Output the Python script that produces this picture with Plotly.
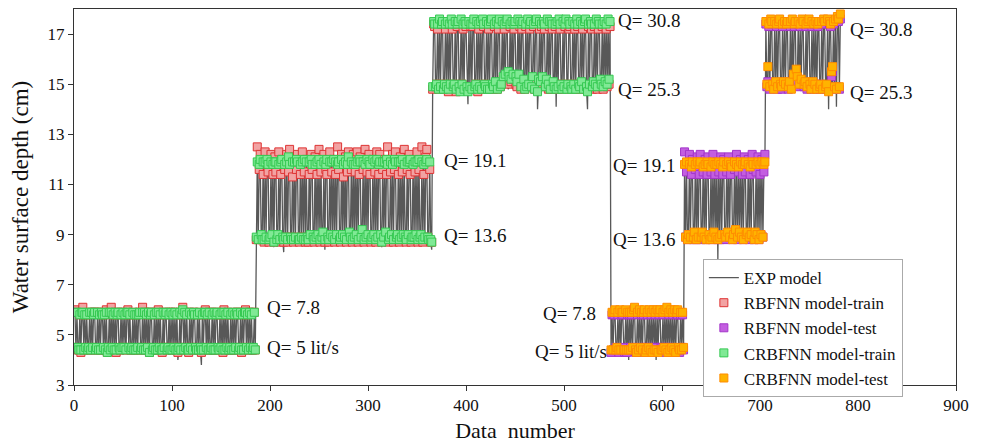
import plotly.graph_objects as go

# Measured water surface depth (cm) per data number, grouped by discharge blocks
exp_b1 = [5.9,4.4,5.8,4.5,4.4,5.9,4.3,5.8,6.0,4.5,5.9,4.4,5.7,4.5,4.6,5.9,4.3,5.8,4.4,5.9,
          6.0,4.5,4.4,5.8,4.3,5.9,4.5,5.8,5.9,4.4,5.7,4.5,5.9,4.2,4.4,5.8,4.5,6.0,4.4,5.9,
          4.5,5.8,4.3,5.9,5.8,4.4,4.5,5.9,4.4,5.8,4.6,5.9,4.3,5.8,6.0,4.4,5.9,4.5,4.4,5.8,
          4.3,5.9,4.5,5.7,4.4,5.9,5.8,4.5,4.4,6.0,4.3,5.8,4.5,5.9,4.4,5.8,4.2,5.9,5.8,4.5,
          4.4,5.9,4.3,5.8,4.5,6.0,4.4,5.9,4.5,4.3,5.8,4.4,5.9,5.8,4.5,4.4,5.9,4.3,5.8,4.5,
          5.9,4.4,5.8,4.5,5.9,4.0,4.4,5.8,4.3,5.9,6.1,4.5,5.8,4.4,5.9,4.5,4.3,5.8,4.4,5.9,
          4.5,5.8,5.9,4.4,4.3,5.9,4.5,5.8,4.4,3.8,5.9,4.5,5.8,6.0,4.4,5.9,4.3,5.8,4.5,4.4,
          5.9,4.5,5.8,4.3,5.9,5.8,4.4,4.5,5.9,4.4,5.8,4.3,6.0,4.5,5.9,4.4,5.8,4.5,4.4,5.9,
          4.3,5.8,4.5,5.9,4.4,5.8,5.9,4.5,4.4,5.8,4.3,5.9,4.5,5.8,6.0,4.4,5.9,4.5,5.8,4.4,
          5.9,4.5,4.4,5.8,4.5]
exp_b2 = [8.8,11.9,8.7,11.8,12.0,8.9,8.8,11.9,8.6,11.8,8.9,12.0,11.9,8.7,8.8,11.8,8.9,11.9,8.5,12.0,
          11.8,8.8,8.9,11.9,8.7,11.8,12.0,8.8,8.3,11.9,8.9,11.8,8.7,12.0,11.9,8.8,8.9,11.8,8.7,11.9,
          8.8,12.0,11.8,8.9,8.7,11.9,8.8,11.8,8.9,12.1,8.7,11.9,8.8,8.6,11.8,8.9,12.0,11.9,8.8,8.7,
          11.9,8.8,11.8,8.9,12.0,8.7,11.9,8.8,8.9,11.8,8.4,11.9,12.0,8.8,8.7,11.8,8.9,11.9,8.8,12.0,
          8.7,11.8,8.9,11.9,11.8,8.8,8.7,12.0,8.9,11.9,8.8,11.8,8.6,11.9,12.0,8.9,8.8,11.8,8.7,11.9,
          8.8,11.9,8.9,11.8,8.7,12.0,11.9,8.8,8.9,11.8,8.7,11.9,8.8,12.1,8.9,11.8,11.9,8.7,8.8,11.9,
          8.9,11.8,8.7,12.0,8.8,11.9,11.8,8.9,8.5,11.9,8.8,11.8,8.9,12.0,11.9,8.7,8.8,11.8,8.9,11.9,
          8.7,12.0,11.8,8.8,8.9,11.9,8.7,11.8,8.8,12.0,8.9,11.9,8.8,8.6,11.8,8.9,11.9,12.0,8.7,8.8,
          11.9,8.8,11.8,8.9,11.9,8.7,12.0,8.8,8.9,11.8,8.7,11.9,8.8,11.8,12.0,8.9,8.8,11.9,8.7,8.4]
exp_b3 = [14.9,17.4,17.5,14.8,15.0,17.3,14.7,17.5,14.9,17.4,17.6,14.8,14.9,17.3,15.0,17.5,14.7,17.4,14.9,17.6,
          17.3,14.8,15.0,17.5,14.6,17.4,17.3,14.9,14.8,17.6,15.0,17.4,14.7,17.5,17.3,14.9,14.2,17.4,14.8,17.5,
          14.9,17.3,17.6,14.8,15.0,17.4,14.7,17.5,14.9,17.3,14.8,17.6,17.4,15.0,14.8,17.5,14.9,17.3,14.7,17.4,
          17.5,14.9,14.8,17.4,15.0,17.6,14.7,17.3,17.5,14.9,14.8,17.4,15.1,17.5,14.9,17.3,17.6,14.8,14.9,17.4,
          15.0,17.5,14.8,17.3,17.4,15.2,14.9,17.6,15.3,17.4,14.8,17.5,17.3,15.1,14.9,17.4,14.8,17.6,15.0,17.3,
          17.4,14.9,15.4,17.5,14.8,17.3,17.6,14.0,15.0,17.4,14.9,17.5,15.2,17.3,17.4,14.8,15.0,17.6,14.9,17.5,
          14.8,17.4,17.3,15.0,14.9,17.5,14.1,17.4,14.8,17.6,17.3,15.0,14.9,17.4,14.8,17.5,17.7,14.9,15.0,17.4,
          17.3,14.8,14.9,17.5,15.0,17.4,14.7,17.6,17.3,14.9,14.8,17.5,15.0,17.4,14.9,17.3,17.5,14.8,14.0,17.4,
          14.9,17.5,17.4,14.8,15.0,17.3,14.9,17.6,14.8,17.4,17.5,15.0,14.9,17.3,14.8,17.5,15.0,17.4,14.9,17.5,
          14.9,17.4]
exp_b4 = [4.4,5.9,4.3,5.8,5.9,4.5,4.4,5.8,4.3,6.0,4.4,5.9,5.8,4.5,4.3,5.9,4.4,5.8,4.0,5.9,
          4.5,5.8,4.4,5.9,6.0,4.3,4.4,5.8,4.5,5.9,4.4,5.8,4.3,5.9,6.0,4.4,4.5,5.8,4.4,5.9,
          4.3,5.8,4.4,5.9,4.5,5.8,4.0,5.9,4.4,5.8,5.9,4.3,4.5,5.8,4.4,5.9,4.3,6.0,4.4,5.8,
          4.5,5.9,4.4,5.8,4.3,5.9,4.4,5.8,5.9,4.4,4.3,5.8,4.5,5.9,4.4]
exp_b5 = [11.7,8.9,11.8,8.8,9.0,11.9,8.9,11.7,11.8,8.8,9.0,11.9,8.7,11.8,8.9,11.7,11.9,8.8,9.1,11.8,
          8.9,11.7,8.8,11.9,11.8,9.0,8.9,11.7,8.8,11.8,9.0,11.9,8.9,11.7,8.0,11.8,8.8,11.9,9.0,11.7,
          11.8,8.9,8.8,11.7,9.0,11.9,8.9,11.8,11.7,8.8,9.0,11.8,8.9,11.9,8.8,11.7,9.1,11.8,8.9,11.9,
          8.8,11.7,11.8,8.9,9.0,11.9,8.8,11.7,8.9,11.8,11.9,8.8,9.0,11.7,8.9,11.8,8.8,11.9,9.0,11.8,
          8.9,11.7,11.8]
exp_b6 = [17.4,14.9,15.0,17.3,14.8,17.5,17.4,14.9,14.7,17.6,15.0,17.3,14.8,17.4,17.5,14.9,14.8,17.3,15.0,17.4,
          14.9,17.5,17.3,14.8,15.0,17.4,14.7,17.6,14.9,17.3,17.5,14.8,15.0,17.4,14.9,17.3,14.8,17.5,17.4,14.9,
          15.0,17.3,14.8,17.4,17.6,14.9,14.8,17.3,15.0,17.5,14.9,17.4,14.7,17.3,17.5,14.8,15.0,17.4,14.9,17.6,
          17.3,14.8,14.9,17.5,14.0,17.4,17.3,14.9,15.0,17.4,14.8,17.5,14.1,17.6,17.5,14.8,17.7]

# RBFNN predictions
rbf_b1 = [6.0,4.5,5.9,4.4,4.4,5.8,4.3,5.9,6.1,4.4,5.8,4.5,5.8,4.4,4.4,5.9,4.4,5.9,4.5,5.9,
          5.9,4.4,4.4,5.9,4.4,5.9,4.4,5.9,5.8,4.4,5.8,4.4,6.0,4.3,4.5,5.9,4.4,6.1,4.4,5.8,
          4.4,5.9,4.3,5.8,5.9,4.5,4.4,5.9,4.5,5.9,4.4,5.8,4.4,5.9,6.0,4.5,5.8,4.4,4.4,5.9,
          4.4,5.8,4.4,5.8,4.4,5.9,5.9,4.4,4.5,6.1,4.4,5.9,4.4,5.8,4.5,5.9,4.3,5.9,5.9,4.4,
          4.4,5.8,4.4,5.9,4.4,6.0,4.5,5.8,4.4,4.3,5.9,4.5,5.8,5.9,4.4,4.5,5.9,4.4,5.9,4.4,
          5.9,4.5,5.9,4.4,5.8,4.3,4.5,5.9,4.4,5.8,6.1,4.4,5.9,4.5,5.9,4.4,4.3,5.9,4.5,5.8,
          4.4,5.9,5.9,4.5,4.4,5.8,4.4,5.9,4.4,4.3,5.8,4.4,5.9,6.0,4.5,5.8,4.4,5.9,4.4,4.4,
          5.9,4.4,5.9,4.4,5.8,5.9,4.4,4.4,5.8,4.5,5.9,4.3,6.0,4.4,5.8,4.5,5.9,4.4,4.4,5.8,
          4.4,5.9,4.4,5.8,4.4,5.9,5.9,4.4,4.5,5.9,4.3,5.8,4.4,5.9,6.0,4.5,5.8,4.4,5.9,4.4,
          5.9,4.4,4.4,5.9,4.4]
rbf_b2 = [8.8,12.5,8.8,11.6,12.2,8.9,8.8,11.4,8.7,12.3,8.8,11.9,11.5,8.7,8.8,12.2,8.9,11.4,8.7,12.1,
          11.5,8.8,8.9,12.3,8.7,11.4,12.0,8.8,8.7,11.6,8.9,12.2,8.7,11.5,12.4,8.8,8.9,11.3,8.7,12.1,
          8.8,11.6,12.2,8.9,8.7,11.4,8.8,12.3,8.9,11.5,8.7,12.0,8.8,8.7,11.4,8.9,12.2,11.6,8.8,8.7,
          12.1,8.8,11.4,8.9,12.4,8.7,11.5,8.8,8.9,12.2,8.7,11.6,11.4,8.8,8.7,12.3,8.9,11.5,8.8,12.0,
          8.7,11.4,8.9,12.5,11.6,8.8,8.7,12.2,8.9,11.3,8.8,12.1,8.7,11.5,12.3,8.9,8.8,11.6,8.7,12.2,
          8.8,11.5,8.9,12.3,8.7,11.4,12.1,8.8,8.9,11.6,8.7,12.4,8.8,11.5,8.9,12.2,11.4,8.7,8.8,12.0,
          8.9,11.5,8.7,12.3,8.8,11.4,12.2,8.9,8.7,11.6,8.8,12.0,8.9,11.4,12.5,8.7,8.8,11.5,8.9,12.2,
          8.7,11.6,12.3,8.8,8.9,11.4,8.7,12.1,8.8,11.5,8.9,12.4,8.8,8.7,11.6,8.9,12.2,11.4,8.7,8.8,
          12.0,8.8,11.5,8.9,12.3,8.7,11.6,8.8,8.9,12.5,8.7,11.4,8.8,12.1,12.4,8.9,8.8,11.6,8.7,8.7]
rbf_b3 = [14.8,17.4,17.3,14.9,15.0,17.2,14.8,17.5,15.0,17.4,17.4,14.9,14.8,17.2,15.0,17.4,14.7,17.4,14.9,17.5,
          17.2,14.9,15.0,17.4,14.7,17.3,17.4,14.9,14.8,17.5,15.0,17.2,14.8,17.4,17.3,14.9,14.8,17.4,14.9,17.3,
          14.9,17.3,17.5,14.8,15.0,17.4,14.7,17.2,14.9,17.4,14.8,17.5,17.3,15.0,14.9,17.4,14.8,17.2,14.8,17.4,
          17.5,14.9,14.8,17.3,15.0,17.4,14.8,17.2,17.5,14.9,15.0,17.4,15.2,17.2,15.1,17.4,17.5,15.2,15.0,17.3,
          15.1,17.4,15.2,17.2,17.4,15.0,14.9,17.5,15.2,17.3,14.8,17.2,17.4,15.1,14.8,17.3,14.9,17.5,15.0,17.2,
          17.4,14.9,15.1,17.3,14.8,17.4,17.5,14.8,15.0,17.2,15.0,17.3,15.1,17.4,17.2,14.9,15.0,17.5,14.8,17.3,
          14.8,17.4,17.2,15.0,14.9,17.3,14.8,17.4,14.8,17.5,17.2,15.0,14.9,17.4,14.8,17.3,17.5,14.9,15.0,17.2,
          17.3,14.8,14.9,17.4,15.0,17.2,14.8,17.5,17.3,14.9,14.8,17.4,15.0,17.2,14.9,17.4,17.5,14.8,14.8,17.3,
          14.9,17.4,17.2,14.8,15.0,17.3,14.9,17.5,14.8,17.2,17.4,15.0,14.9,17.3,14.8,17.4,15.0,17.2,14.9,17.5,
          15.0,17.3]
rbf_b4 = [4.3,5.8,4.4,5.8,5.9,4.5,4.4,5.8,4.3,5.9,4.4,5.8,5.8,4.5,4.3,5.9,4.3,5.8,4.4,5.8,
          4.5,5.8,4.4,5.9,5.9,4.3,4.4,5.8,4.5,5.9,4.4,5.8,4.3,5.8,5.9,4.5,4.5,5.8,4.4,5.9,
          4.3,5.8,4.5,5.9,4.5,5.8,4.5,5.9,4.4,5.8,5.9,4.5,4.5,5.8,4.4,5.9,4.3,5.9,4.5,5.8,
          4.5,5.9,4.4,5.8,4.3,5.9,4.4,5.8,5.8,4.4,4.3,5.8,4.5,5.8,4.4]
rbf_b5 = [12.3,8.9,11.5,8.8,9.0,12.2,8.9,11.4,12.0,8.8,9.0,11.6,8.8,12.1,8.9,11.4,12.2,8.8,9.0,11.5,
          8.9,12.0,8.8,11.4,12.1,9.0,8.9,11.5,8.8,12.2,9.0,11.4,8.9,11.9,8.8,11.5,8.8,12.1,9.0,11.4,
          12.0,8.9,8.8,11.5,9.0,12.1,8.9,11.4,11.9,8.8,9.0,11.6,8.9,12.2,8.8,11.5,9.0,12.0,8.9,11.4,
          8.8,12.1,11.5,8.9,9.0,12.0,8.8,11.4,8.9,12.2,11.6,8.8,9.0,11.5,8.9,12.1,8.8,11.4,9.0,12.0,
          8.9,11.5,12.2]
rbf_b6 = [17.4,14.9,15.1,17.3,14.8,17.5,17.4,15.0,14.9,17.4,15.0,17.3,14.8,17.4,17.5,15.0,14.8,17.3,15.0,17.4,
          14.9,17.5,17.4,14.8,15.0,17.3,14.9,17.5,15.2,17.3,17.4,15.3,15.1,17.4,14.9,17.3,15.0,17.5,17.4,14.9,
          15.0,17.3,14.8,17.4,17.5,14.9,14.8,17.3,15.0,17.4,14.9,17.4,14.8,17.3,17.5,14.8,15.0,17.4,14.9,17.5,
          17.4,14.8,14.9,17.5,14.8,17.4,17.3,15.3,15.5,17.4,14.8,17.5,14.9,17.6,17.5,14.8,17.6]

# CRBFNN predictions
crbf_b1 = [5.9,4.5,5.9,4.5,4.4,5.8,4.4,5.9,5.9,4.4,5.8,4.5,5.8,4.4,4.5,5.9,4.4,5.9,4.5,5.8,
           5.9,4.4,4.5,5.9,4.4,5.8,4.4,5.9,5.8,4.5,5.8,4.4,5.9,4.3,4.5,5.9,4.4,5.9,4.5,5.8,
           4.4,5.9,4.4,5.8,5.9,4.5,4.4,5.8,4.5,5.9,4.5,5.8,4.4,5.9,5.9,4.5,5.8,4.4,4.5,5.9,
           4.4,5.8,4.4,5.8,4.5,5.8,5.9,4.4,4.5,5.9,4.4,5.9,4.4,5.8,4.5,5.9,4.3,5.8,5.9,4.4,
           4.5,5.8,4.4,5.9,4.4,5.9,4.5,5.8,4.4,4.4,5.9,4.5,5.8,5.9,4.4,4.5,5.8,4.4,5.9,4.4,
           5.8,4.5,5.9,4.4,5.8,4.4,4.5,5.9,4.4,5.8,6.0,4.4,5.9,4.5,5.8,4.4,4.4,5.9,4.5,5.8,
           4.4,5.9,5.8,4.5,4.4,5.8,4.4,5.9,4.5,4.4,5.8,4.4,5.9,5.9,4.5,5.8,4.4,5.9,4.4,4.5,
           5.8,4.4,5.9,4.4,5.8,5.9,4.5,4.4,5.8,4.5,5.9,4.4,5.9,4.4,5.8,4.5,5.9,4.4,4.5,5.8,
           4.4,5.9,4.4,5.8,4.5,5.9,5.8,4.4,4.5,5.9,4.4,5.8,4.4,5.9,5.9,4.5,5.8,4.4,5.9,4.5,
           5.8,4.4,4.5,5.9,4.4]
crbf_b2 = [8.9,11.9,8.8,11.8,12.0,9.0,8.8,11.9,8.8,11.9,8.9,12.0,11.8,8.8,8.9,11.9,9.0,11.8,8.7,11.9,
           11.9,8.8,9.0,11.8,8.8,11.9,12.0,8.9,8.8,11.8,8.9,11.9,8.8,12.1,11.8,8.9,8.8,11.9,8.8,11.9,
           8.9,12.0,11.9,8.8,8.8,11.8,8.9,11.9,8.8,12.0,8.8,11.9,8.9,8.8,11.9,9.0,12.0,11.8,8.9,8.8,
           11.8,8.9,11.9,9.0,12.0,8.8,11.8,8.9,9.1,11.9,8.8,11.8,12.0,8.9,8.8,11.9,9.0,11.9,8.9,12.0,
           8.8,11.9,9.0,11.8,11.9,8.8,8.9,12.0,9.0,11.8,8.9,11.9,8.8,11.8,12.1,9.1,8.9,11.9,8.8,11.8,
           8.9,11.8,9.0,11.9,8.8,12.0,11.9,8.9,9.2,11.9,8.8,11.8,8.9,12.0,9.0,11.9,11.8,8.8,8.9,12.0,
           9.0,11.9,8.8,12.0,8.9,11.8,11.9,9.0,8.7,11.9,8.9,11.9,9.1,12.0,11.8,8.8,8.9,11.9,9.0,11.8,
           8.8,12.0,11.9,8.9,9.0,11.9,8.8,11.9,8.9,12.0,9.0,11.8,8.9,8.8,11.9,9.0,11.9,12.0,8.8,8.9,
           11.8,8.9,11.9,9.0,11.9,8.8,12.0,8.9,9.0,11.9,8.8,11.8,8.9,11.9,12.0,8.9,8.8,11.9,8.8,8.7]
crbf_b3 = [14.9,17.5,17.4,14.9,15.0,17.4,14.8,17.6,14.9,17.4,17.5,14.8,15.0,17.4,14.9,17.5,14.8,17.4,15.0,17.6,
           17.4,14.9,15.0,17.5,14.8,17.4,17.5,14.9,14.7,17.6,15.0,17.4,14.8,17.5,17.4,14.9,14.7,17.5,14.9,17.4,
           14.8,17.4,17.6,14.9,15.0,17.5,14.8,17.4,14.9,17.5,14.8,17.6,17.4,15.0,14.9,17.5,14.8,17.4,14.8,17.5,
           17.6,15.0,14.9,17.4,15.1,17.5,14.8,17.4,17.6,14.9,15.0,17.5,15.3,17.4,15.4,17.5,17.6,15.5,15.3,17.4,
           15.2,17.5,15.4,17.4,17.5,15.3,15.1,17.6,15.4,17.5,14.9,17.4,17.5,15.2,14.8,17.4,14.9,17.6,15.0,17.4,
           17.5,14.9,15.3,17.4,14.8,17.5,17.6,14.7,15.2,17.5,15.1,17.4,15.3,17.5,17.4,14.9,15.2,17.6,15.0,17.5,
           14.8,17.5,17.4,15.1,14.9,17.4,14.8,17.5,14.9,17.6,17.4,15.0,14.8,17.5,14.9,17.4,17.6,14.8,15.0,17.5,
           17.4,14.9,14.8,17.5,15.0,17.4,14.8,17.6,17.4,15.0,14.9,17.5,15.1,17.4,14.8,17.5,17.6,14.9,14.7,17.4,
           15.0,17.5,17.4,14.9,15.1,17.4,15.0,17.6,14.9,17.5,17.4,15.2,15.0,17.4,14.9,17.5,15.1,17.4,15.0,17.6,
           15.2,17.5]
crbf_b4 = [4.4,5.9,4.4,5.9,6.0,4.4,4.5,5.9,4.4,6.0,4.4,5.9,5.9,4.4,4.4,6.0,4.4,5.9,4.4,5.9,
           4.4,5.9,4.5,6.0,6.1,4.4,4.3,5.9,4.4,6.0,4.5,5.9,4.4,5.9,6.0,4.3,4.4,5.9,4.5,6.0,
           4.4,5.9,4.3,6.0,4.4,5.9,4.4,6.0,4.3,5.9,6.0,4.4,4.4,5.9,4.5,6.0,4.4,6.1,4.3,5.9,
           4.4,6.0,4.5,5.9,4.4,6.0,4.3,5.9,6.0,4.5,4.4,5.9,4.4,5.9,4.5]
crbf_b5 = [11.8,8.9,11.9,8.8,9.0,11.8,8.9,11.7,11.9,8.9,9.1,11.8,8.8,11.9,8.9,11.8,11.9,8.9,9.1,11.7,
           8.9,11.8,8.8,11.9,11.8,9.0,8.8,11.7,8.9,11.9,9.1,11.8,8.9,11.8,8.8,11.9,8.9,11.8,9.0,11.7,
           11.9,9.0,8.9,11.8,9.1,11.9,8.9,11.8,11.7,8.8,9.0,11.9,9.2,11.8,8.9,11.7,9.1,11.9,8.9,11.8,
           8.8,11.8,11.9,9.0,9.1,11.8,8.9,11.7,9.0,11.9,11.8,8.8,9.1,11.8,9.0,11.9,8.8,11.8,9.0,11.9,
           8.9,11.8,11.9]
crbf_b6 = [17.5,15.0,15.7,17.4,14.9,17.6,17.5,15.0,14.8,17.5,15.1,17.4,14.9,17.5,17.6,15.0,14.9,17.4,15.1,17.5,
           15.0,17.4,17.5,14.9,15.1,17.5,14.8,17.6,15.4,17.4,17.5,15.6,15.3,17.5,15.0,17.4,15.2,17.6,17.5,15.0,
           15.1,17.4,14.9,17.5,17.6,15.0,14.8,17.5,15.1,17.4,15.0,17.5,14.8,17.4,17.5,14.9,15.0,17.5,14.8,17.6,
           17.5,14.9,15.0,17.6,14.7,17.5,17.4,15.5,15.7,17.5,14.9,17.6,14.8,17.7,17.6,14.9,17.8]

# Flow-rate labels: (text, x, y, anchor)
q_labels = [("Q= 7.8", 195, 6.1, "left"), ("Q= 5 lit/s", 195, 4.5, "left"),
            ("Q= 19.1", 375, 11.95, "left"), ("Q= 13.6", 375, 8.95, "left"),
            ("Q= 30.8", 553, 17.55, "left"), ("Q= 25.3", 553, 14.8, "left"),
            ("Q= 7.8", 535, 5.85, "right"), ("Q= 5 lit/s", 546, 4.35, "right"),
            ("Q= 19.1", 615, 11.75, "right"), ("Q= 13.6", 615, 8.8, "right"),
            ("Q= 30.8", 790, 17.2, "left"), ("Q= 25.3", 790, 14.65, "left")]

exp_all = exp_b1 + exp_b2 + exp_b3 + exp_b4 + exp_b5 + exp_b6
rbf_train = rbf_b1 + rbf_b2 + rbf_b3
rbf_test = rbf_b4 + rbf_b5 + rbf_b6
crbf_train = crbf_b1 + crbf_b2 + crbf_b3
crbf_test = crbf_b4 + crbf_b5 + crbf_b6

n_train = len(rbf_train)
x_all = list(range(1, len(exp_all) + 1))
x_train = x_all[:n_train]
x_test = x_all[n_train:n_train + len(rbf_test)]

FONT = "Liberation Serif, Times New Roman, serif"

fig = go.Figure()
fig.add_trace(go.Scatter(x=x_all, y=exp_all, mode="lines", name="EXP model",
                         line=dict(color="#585858", width=1.3)))


def add_markers(x, y, name, fill, edge):
    fig.add_trace(go.Scatter(x=x, y=y, mode="markers", name=name,
                             marker=dict(symbol="square", size=8, color=fill,
                                         line=dict(color=edge, width=1))))


add_markers(x_train, rbf_train, "RBFNN model-train", "#f2a3a3", "#de3434")
add_markers(x_test, rbf_test, "RBFNN model-test", "#c35ee0", "#a335c8")
add_markers(x_train, crbf_train, "CRBFNN model-train", "#80e995", "#35c952")
add_markers(x_test, crbf_test, "CRBFNN model-test", "#ffb300", "#ff8c00")

for text, x, y, anchor in q_labels:
    fig.add_annotation(x=x, y=y, text=text, showarrow=False, xanchor=anchor,
                       yanchor="middle", font=dict(family=FONT, size=19, color="#111"))

fig.update_layout(
    width=984, height=446,
    margin=dict(l=74, r=28, t=9, b=61, autoexpand=False),
    plot_bgcolor="white", paper_bgcolor="white",
    font=dict(family=FONT, size=17, color="#111"),
    showlegend=True,
    legend=dict(x=0.713, y=0.335, xanchor="left", yanchor="top",
                bgcolor="white", bordercolor="#aaaaaa", borderwidth=1,
                font=dict(family=FONT, size=17, color="#111"),
                tracegroupgap=0, itemwidth=30),
)
fig.update_xaxes(range=[0, 900], dtick=100, tick0=0, showgrid=False, zeroline=False,
                 showline=True, linecolor="#333", linewidth=1, mirror=True,
                 ticks="outside", ticklen=5, tickcolor="#333", automargin=False,
                 title=dict(text="Data  number", font=dict(family=FONT, size=22), standoff=8))
fig.update_yaxes(range=[3, 18], tickvals=[3, 5, 7, 9, 11, 13, 15, 17], showgrid=False,
                 zeroline=False, showline=True, linecolor="#333", linewidth=1, mirror=True,
                 ticks="outside", ticklen=5, tickcolor="#333", automargin=False,
                 title=dict(text="Water surface depth (cm)", font=dict(family=FONT, size=23),
                            standoff=12))

fig.write_html("out.html")
